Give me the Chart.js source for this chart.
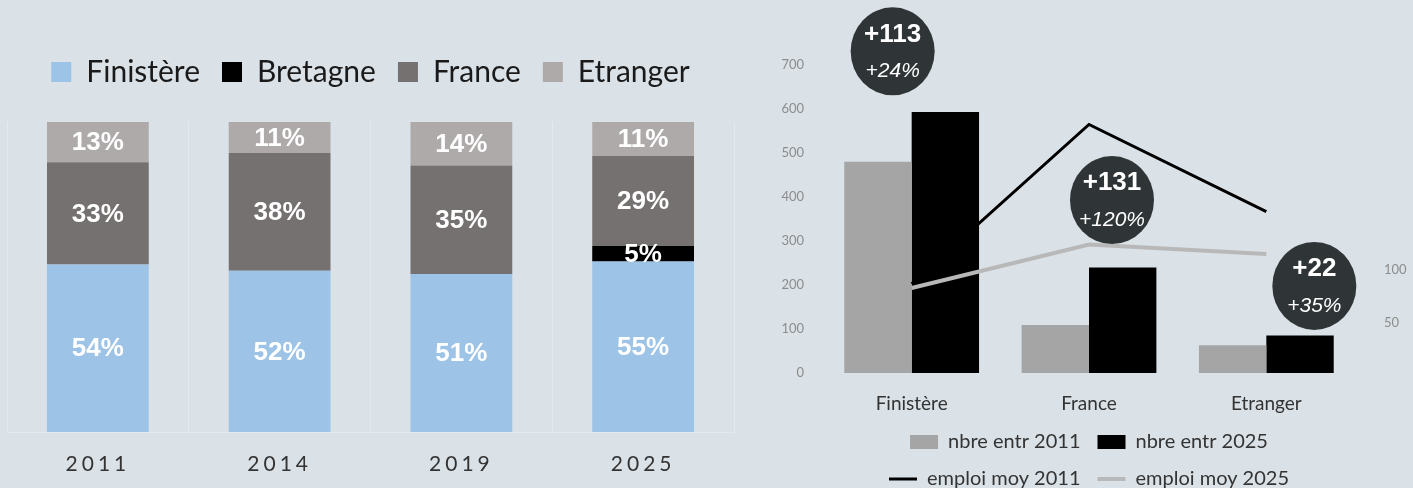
<!DOCTYPE html>
<html lang="fr">
<head>
<meta charset="utf-8">
<title>Entreprises par origine</title>
<script src="https://cdn.jsdelivr.net/npm/chart.js@4.4.1/dist/chart.umd.min.js"></script>
<style>
  html, body { margin: 0; padding: 0; background: #dae2e8; }
  body { width: 1413px; height: 488px; position: relative; overflow: hidden; }
  .box { position: absolute; top: 0; height: 488px; }
  #gauche { left: 0; width: 745px; }
  #droite { left: 745px; width: 668px; }
</style>
</head>
<body>
<div class="box" id="gauche"><canvas id="canvasRepartition"></canvas></div>
<div class="box" id="droite"><canvas id="canvasEvolution"></canvas></div>

<script>
// --- Données : répartition (%) par année ---
const annees = ['2011', '2014', '2019', '2025'];
const partFinistere = [54, 52, 51, 55];
const partBretagne = [0, 0, 0, 5];
const partFrance = [33, 38, 35, 29];
const partEtranger = [13, 11, 14, 11];

// --- Données : nombre d'entreprises et emploi moyen ---
const origines = ['Finistère', 'France', 'Etranger'];
const entr2011 = [480, 109, 63];
const entr2025 = [593, 240, 85];
const emploi2011 = [87, 237, 155];
const emploi2025 = [83, 124, 115];

// emplacement des bulles d'évolution (décalage px / valeur sur l'axe gauche)
const bulles = [{ dx: -19, v: 731 }, { dx: 23, v: 393 }, { dx: 48, v: 198 }];

const POLICE = 'Lato, "Liberation Sans", sans-serif';

// Un peu d'air sous la légende du graphique de gauche
const margeLegende = {
    id: 'margeLegende',
    beforeInit(chart) {
        const fitOrig = chart.legend.fit;
        chart.legend.fit = function () {
            fitOrig.call(this);
            this.height += 25;
        };
    }
};

// Étiquettes blanches au centre de chaque segment + espacement des années
const etiquettesSegments = {
    id: 'etiquettesSegments',
    afterDatasetsDraw(chart) {
        const ctx = chart.ctx;
        ctx.save();
        ctx.font = 'bold 26px "Liberation Sans", Arial, sans-serif';
        ctx.fillStyle = '#ffffff';
        ctx.textAlign = 'center';
        ctx.textBaseline = 'middle';
        chart.data.datasets.forEach((ds, i) => {
            chart.getDatasetMeta(i).data.forEach((bar, j) => {
                const v = ds.data[j];
                if (!v) return;
                const haut = Math.max(bar.y, chart.chartArea.top);
                ctx.fillText(v + '%', bar.x, (haut + bar.base) / 2 + 1);
            });
        });
        ctx.restore();
        // les années (ticks z:1) sont dessinées après : lettres espacées
        ctx.letterSpacing = '4px';
    },
    afterDraw(chart) {
        chart.ctx.letterSpacing = '0px';
    }
};

new Chart(document.getElementById('canvasRepartition'), {
    type: 'bar',
    data: {
        labels: annees,
        datasets: [
            { label: 'Finistère', data: partFinistere, backgroundColor: '#9dc3e6' },
            { label: 'Bretagne', data: partBretagne, backgroundColor: '#000000' },
            { label: 'France', data: partFrance, backgroundColor: '#767171' },
            { label: 'Etranger', data: partEtranger, backgroundColor: '#aeaaaa' }
        ]
    },
    options: {
        responsive: true,
        maintainAspectRatio: false,
        animation: false,
        datasets: { bar: { barPercentage: 0.56, categoryPercentage: 1, borderWidth: 0, clip: 0 } },
        layout: { padding: { top: 35, left: 7, right: 11, bottom: 0 } },
        plugins: {
            tooltip: { enabled: false },
            legend: {
                position: 'top',
                labels: {
                    boxWidth: 20,
                    boxHeight: 20,
                    padding: 22,
                    color: '#1a1a1a',
                    font: { family: POLICE, size: 30 }
                }
            }
        },
        scales: {
            x: {
                stacked: true,
                grid: { color: '#e4e9ed', drawTicks: false },
                border: { color: '#e4e9ed' },
                ticks: { z: 1, padding: 20, color: '#333333', font: { family: POLICE, size: 21 } },
                afterFit: (s) => { s.height = 56; }
            },
            y: { stacked: true, display: false, min: 0, max: 100 }
        }
    },
    plugins: [margeLegende, etiquettesSegments]
});

// Bulles sombres : écart absolu et relatif entre 2011 et 2025
const bullesEvolution = {
    id: 'bullesEvolution',
    afterDraw(chart) {
        const { ctx, scales: { x, y } } = chart;
        ctx.save();
        bulles.forEach((b, i) => {
            const cx = x.getPixelForValue(i) + b.dx;
            const cy = y.getPixelForValue(b.v);
            const ecart = entr2025[i] - entr2011[i];
            const pct = Math.round(ecart / entr2011[i] * 100);
            ctx.beginPath();
            ctx.ellipse(cx, cy, 42, 44, 0, 0, Math.PI * 2);
            ctx.fillStyle = '#2f3436';
            ctx.fill();
            ctx.fillStyle = '#ffffff';
            ctx.textAlign = 'center';
            ctx.textBaseline = 'middle';
            ctx.font = 'bold 26px "Liberation Sans", Arial, sans-serif';
            ctx.fillText('+' + ecart, cx, cy - 17);
            ctx.font = 'italic 21px "Liberation Sans", Arial, sans-serif';
            ctx.fillText('+' + pct + '%', cx, cy + 20);
        });
        ctx.restore();
    }
};

new Chart(document.getElementById('canvasEvolution'), {
    type: 'bar',
    data: {
        labels: origines,
        datasets: [
            { label: 'nbre entr 2011', data: entr2011, backgroundColor: '#a5a5a5', pointStyle: 'rect', order: 2, yAxisID: 'y' },
            { label: 'nbre entr 2025', data: entr2025, backgroundColor: '#000000', pointStyle: 'rect', order: 2, yAxisID: 'y' },
            { type: 'line', label: 'emploi moy 2011', data: emploi2011, borderColor: '#000000', backgroundColor: '#000000',
              borderWidth: 3, pointRadius: 0, pointStyle: 'line', order: 1, yAxisID: 'y1' },
            { type: 'line', label: 'emploi moy 2025', data: emploi2025, borderColor: '#b8b8b8', backgroundColor: '#b8b8b8',
              borderWidth: 4, pointRadius: 0, pointStyle: 'line', order: 0, yAxisID: 'y1' }
        ]
    },
    options: {
        responsive: true,
        maintainAspectRatio: false,
        animation: false,
        datasets: { bar: { barPercentage: 1, categoryPercentage: 0.76, borderWidth: 0 } },
        layout: { padding: { top: 65, left: 0, right: 0, bottom: 0 } },
        plugins: {
            tooltip: { enabled: false },
            legend: {
                position: 'bottom',
                fullSize: false,
                maxHeight: 73,
                labels: {
                    usePointStyle: true,
                    pointStyleWidth: 28,
                    boxHeight: 14,
                    padding: 17,
                    color: '#333333',
                    font: { family: POLICE, size: 20 },
                    sort: (a, b) => a.datasetIndex - b.datasetIndex
                }
            }
        },
        scales: {
            x: {
                grid: { display: false },
                border: { display: false },
                ticks: { padding: 11, color: '#333333', font: { family: POLICE, size: 19 } },
                afterFit: (s) => { s.height = 42; }
            },
            y: {
                position: 'left',
                min: 0,
                max: 700,
                ticks: { stepSize: 100, padding: 11, color: '#8c8c8c', font: { family: POLICE, size: 13 } },
                grid: { display: false },
                border: { display: false },
                afterFit: (s) => { s.width = 78; }
            },
            y1: {
                position: 'right',
                min: 3,
                max: 293,
                ticks: {
                    stepSize: 50,
                    padding: 21,
                    color: '#8c8c8c',
                    font: { family: POLICE, size: 13 },
                    callback: (v) => (v === 50 || v === 100) ? v : ''
                },
                grid: { display: false },
                border: { display: false },
                afterFit: (s) => { s.width = 58; }
            }
        }
    },
    plugins: [bullesEvolution]
});
</script>
</body>
</html>
